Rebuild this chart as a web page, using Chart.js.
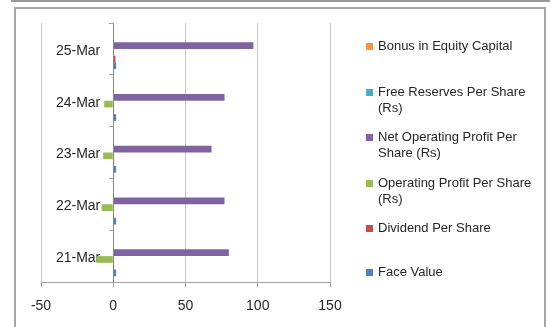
<!DOCTYPE html>
<html><head><meta charset="utf-8">
<script src="https://cdn.jsdelivr.net/npm/chart.js@4/dist/chart.umd.min.js"></script>
<style>
html,body{margin:0;padding:0;background:#fff;}
#wrap{position:relative;width:550px;height:327px;overflow:hidden;font-family:"Liberation Sans",Arial,sans-serif;}
#topline{position:absolute;left:11px;top:0;width:539px;height:2px;background:#9a9a9a;}
#frame{position:absolute;left:14px;top:7px;width:532px;height:340px;border:2px solid #a6a6a6;box-sizing:border-box;}
canvas{position:absolute;left:0;top:0;}
.lg{position:absolute;left:378px;font-size:13px;line-height:16px;color:#262626;white-space:nowrap;}
.sw{position:absolute;left:366px;width:7px;height:7px;}
</style></head>
<body><div id="wrap"><div id="topline"></div><div id="frame"></div>
<canvas id="c" width="550" height="327"></canvas>
<div id="legend"></div></div>
<script>
const categories = ['25-Mar','24-Mar','23-Mar','22-Mar','21-Mar'];
const seriesNames = ['Bonus in Equity Capital','Free Reserves Per Share (Rs)','Net Operating Profit Per Share (Rs)','Operating Profit Per Share (Rs)','Dividend Per Share','Face Value'];
const bonusEquity = [0,0,0,0,0];
const freeReserves = [0,0,0,0,0];
const netOperatingProfit = [97,77,68,77,80];
const operatingProfit = [0.5,-6.3,-7,-8,-11.6];
const dividendPerShare = [1.5,0.6,0.6,0.2,0.1];
const faceValue = [2,2,2,2,2];
const xTicks = [-50,0,50,100,150];
const colors = ['#F79646','#4BACC6','#8064A2','#9BBB59','#C0504D','#4F81BD'];
const seriesValues = [bonusEquity,freeReserves,netOperatingProfit,operatingProfit,dividendPerShare,faceValue];

// HTML legend
const legendLines = [['Bonus in Equity Capital'],['Free Reserves  Per Share','(Rs)'],['Net Operating Profit Per','Share (Rs)'],['Operating Profit Per Share','(Rs)'],['Dividend Per Share'],['Face Value']];
const legendTops = [38,84,129,175,220,264];
const lg = document.getElementById('legend');
legendLines.forEach((lines,i)=>{
  const sw=document.createElement('div');sw.className='sw';sw.style.top=(legendTops[i]+5)+'px';sw.style.background=colors[i];lg.appendChild(sw);
  const t=document.createElement('div');t.className='lg';t.style.top=legendTops[i]+'px';t.innerHTML=lines.join('<br>');lg.appendChild(t);
});

// shift y-axis labels left of the zero axis (padding is ignored for object-positioned axes)
const yLabelShift = {
  id:'yLabelShift',
  beforeDraw(chart){
    const s = chart.scales.y;
    const items = s.getLabelItems(chart.chartArea);
    if (!s._shifted) {
      items.forEach(it=>{ it.options.translation[0] -= 13; it.options.translation[1] += 2; });
      s._shifted = true;
    }
  },
  afterUpdate(chart){ chart.scales.y._shifted = false; }
};

new Chart(document.getElementById('c'),{
  type:'bar',
  data:{labels:categories,datasets:seriesNames.map((n,i)=>({label:n,data:seriesValues[i],backgroundColor:colors[i],borderWidth:0,categoryPercentage:0.78,barPercentage:1}))},
  options:{
    indexAxis:'y',responsive:false,animation:false,
    layout:{padding:{left:41,right:220,top:23,bottom:0}},
    plugins:{legend:{display:false},tooltip:{enabled:false}},
    scales:{
      x:{type:'linear',min:-50,max:150,
        afterBuildTicks:(s)=>{s.ticks=xTicks.map(v=>({value:v}));},
        afterFit:(s)=>{s.height=45;},
        grid:{color:(ctx)=>ctx.tick&&ctx.tick.value===0?'rgba(0,0,0,0)':'#c4c4c4',lineWidth:1,tickLength:5,tickColor:'#a0a0a0',drawTicks:true},
        border:{color:'#a0a0a0',width:1},
        ticks:{color:'#262626',font:{family:'"Liberation Sans",Arial,sans-serif',size:14},padding:11}},
      y:{type:'category',position:{x:0},offset:true,
        grid:{offset:true,drawOnChartArea:false,tickLength:4,color:'#a0a0a0'},
        border:{color:'#8a8a8a',width:1},
        ticks:{color:'#262626',font:{family:'"Liberation Sans",Arial,sans-serif',size:14},padding:0}}
    }
  },
  plugins:[yLabelShift]
});
</script></body></html>
